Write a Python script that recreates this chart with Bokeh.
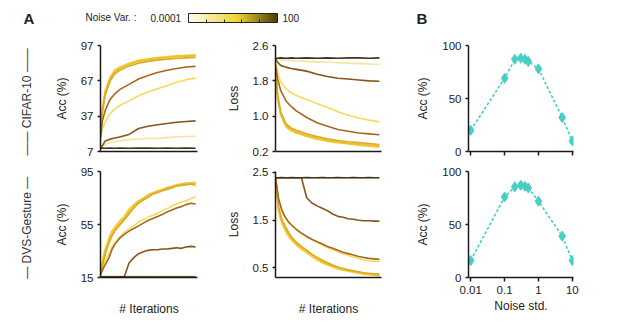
import numpy as np
from bokeh.plotting import figure
from bokeh.layouts import column, row
from bokeh.models import Range1d, FixedTicker, ColorBar, LogColorMapper, Label, Title
from bokeh.embed import file_html
from bokeh.resources import INLINE

FONT = "Liberation Sans"

# ---------------- data ----------------
noise_std = [0.01, 0.1, 0.2, 0.3, 0.4, 0.5, 1, 5, 10]
line_colors = ["#F7E49C", "#F8D95C", "#F6D245", "#F2C935", "#ECBF2B",
               "#DDAA24", "#A5681D", "#8A5419", "#3C3322"]

# CIFAR-10 training curves
iters_c = [0, 2, 5, 10, 15, 20, 30, 40, 50, 60, 70, 80, 90, 100]
cacc_001 = [10, 11.5, 13, 14.5, 15.3, 16, 17, 17.6, 18.2, 18.0, 18.8, 19.3, 19.7, 20]
cacc_01 = [19, 26, 32, 39, 43, 46, 50, 54.3, 57.5, 60.3, 63, 65.8, 68, 69.3]
cacc_02 = [20, 43, 58, 69, 75, 77.8, 81.3, 83.8, 85.2, 86.3, 87.1, 87.7, 88.2, 88.5]
cacc_03 = [20, 44, 59, 70, 76, 78.5, 82, 84.4, 85.8, 86.8, 87.6, 88.2, 88.7, 89]
cacc_04 = [20, 42, 57, 68.5, 74.8, 77.5, 81, 83.5, 84.9, 86, 86.8, 87.4, 87.9, 88.2]
cacc_05 = [20, 40, 55, 66.5, 73, 76, 79.5, 82, 83.5, 84.6, 85.4, 86, 86.5, 86.8]
cacc_1 = [19, 33, 42, 51, 56, 59.5, 64, 68.5, 71.5, 74, 76, 77.5, 78.7, 79.3]
cacc_5 = [10, 12, 16, 17.5, 18.5, 19.3, 21.5, 26.5, 28.5, 29.7, 30.8, 31.8, 32.5, 33]
cacc_10 = [9.8, 9.9, 9.8, 9.9, 9.8, 9.9, 9.8, 9.9, 10, 9.8, 9.9, 9.8, 9.9, 9.8]

closs_001 = [2.30, 2.29, 2.28, 2.27, 2.26, 2.25, 2.24, 2.23, 2.22, 2.21, 2.20, 2.19, 2.18, 2.17]
closs_01 = [2.25, 2.0, 1.78, 1.62, 1.53, 1.47, 1.38, 1.28, 1.20, 1.10, 1.02, 0.96, 0.91, 0.87]
closs_02 = [2.1, 1.45, 1.06, 0.79, 0.69, 0.64, 0.56, 0.50, 0.45, 0.41, 0.38, 0.36, 0.34, 0.32]
closs_03 = [2.1, 1.40, 1.02, 0.76, 0.67, 0.62, 0.54, 0.48, 0.43, 0.40, 0.37, 0.34, 0.32, 0.30]
closs_04 = [2.1, 1.44, 1.05, 0.79, 0.70, 0.65, 0.57, 0.51, 0.46, 0.42, 0.39, 0.37, 0.35, 0.33]
closs_05 = [2.1, 1.50, 1.10, 0.83, 0.73, 0.68, 0.60, 0.54, 0.49, 0.45, 0.42, 0.40, 0.38, 0.36]
closs_1 = [2.15, 1.85, 1.58, 1.35, 1.22, 1.12, 0.97, 0.85, 0.77, 0.70, 0.66, 0.62, 0.60, 0.58]
closs_5 = [2.30, 2.22, 2.15, 2.11, 2.08, 2.06, 2.02, 1.95, 1.90, 1.86, 1.84, 1.82, 1.80, 1.79]
closs_10 = [2.31, 2.31, 2.32, 2.31, 2.32, 2.31, 2.32, 2.31, 2.32, 2.31, 2.32, 2.32, 2.31, 2.32]

# DVS-Gesture training curves
iters_d = [0, 3, 6, 9, 12, 15, 20, 25, 30, 35, 40, 45, 50, 55, 60, 65, 70, 75, 80, 85, 90, 95, 100]
dacc_001 = [16, 16, 16.1, 16, 16.1, 16, 16.1, 16, 16, 16.1, 16, 16, 16.1, 16, 16, 16.1, 16, 16, 16.1, 16, 16, 16.1, 16]
dacc_01 = [17, 24, 29, 33, 38, 41, 45.5, 49, 51.5, 54, 57, 58.5, 60.5, 62, 63.5, 65.5, 67, 69, 70.5, 72, 73, 74.5, 76]
dacc_02 = [17, 30, 38, 44, 49, 52.5, 56.5, 60, 65, 69, 72.5, 75, 77, 78.5, 79.5, 81, 82.5, 83.5, 84.5, 85.5, 86, 86.5, 85.5]
dacc_03 = [17, 31, 39, 45, 50, 53, 57.5, 61, 66.5, 70, 73, 74.5, 77.5, 79, 80, 81.5, 82, 84, 85, 85.5, 86.5, 86, 87]
dacc_04 = [17, 28, 36, 42, 47.5, 51, 55, 59, 64, 68, 71.5, 74.5, 76.5, 78, 80.5, 81, 83, 83.5, 84, 85.5, 85, 86, 86]
dacc_05 = [17, 27, 35, 41, 46, 50, 54.5, 58.5, 63, 67.5, 71, 73.5, 75.5, 78, 79, 80.5, 81.5, 82.5, 84, 84.5, 85, 85.5, 84.5]
dacc_1 = [17, 22, 26, 30, 36, 40, 44.5, 47.5, 50, 52, 54, 56, 58, 59.5, 61, 62.5, 64.5, 66, 67.5, 68.5, 70, 71, 70.5]
dacc_5 = [15.5, 15.5, 15.5, 15.5, 15.5, 15.5, 15.5, 15.5, 26, 30, 33, 34.5, 35.5, 36, 36, 36.5, 36.5, 37, 37.5, 37, 38, 38.5, 38]
dacc_10 = [15.4, 15.4, 15.3, 15.4, 15.4, 15.3, 15.4, 15.4, 15.3, 15.4, 15.4, 15.3, 15.4, 15.4, 15.3, 15.4, 15.4, 15.3, 15.4, 15.4, 15.3, 15.4, 15.4]

dloss_001 = [2.385, 2.385, 2.38, 2.385, 2.385, 2.38, 2.385, 2.385, 2.38, 2.385, 2.385, 2.38, 2.385, 2.385, 2.38, 2.385, 2.385, 2.38, 2.385, 2.385, 2.38, 2.385, 2.385]
dloss_01 = [2.39, 1.93, 1.70, 1.56, 1.47, 1.40, 1.30, 1.22, 1.15, 1.09, 1.04, 0.98, 0.93, 0.88, 0.84, 0.80, 0.76, 0.73, 0.70, 0.67, 0.65, 0.64, 0.63]
dloss_02 = [2.39, 1.72, 1.48, 1.35, 1.22, 1.12, 1.00, 0.92, 0.85, 0.77, 0.70, 0.63, 0.58, 0.54, 0.50, 0.47, 0.45, 0.42, 0.40, 0.38, 0.37, 0.36, 0.35]
dloss_03 = [2.39, 1.68, 1.44, 1.30, 1.18, 1.09, 0.98, 0.89, 0.82, 0.74, 0.67, 0.61, 0.56, 0.52, 0.48, 0.45, 0.43, 0.41, 0.39, 0.37, 0.36, 0.35, 0.34]
dloss_04 = [2.39, 1.74, 1.50, 1.36, 1.24, 1.14, 1.02, 0.94, 0.86, 0.78, 0.71, 0.64, 0.59, 0.55, 0.51, 0.48, 0.45, 0.43, 0.41, 0.39, 0.38, 0.37, 0.36]
dloss_05 = [2.39, 1.77, 1.53, 1.39, 1.27, 1.16, 1.04, 0.95, 0.87, 0.79, 0.72, 0.66, 0.61, 0.56, 0.52, 0.49, 0.46, 0.44, 0.42, 0.40, 0.39, 0.38, 0.37]
dloss_1 = [2.39, 1.95, 1.72, 1.58, 1.48, 1.41, 1.31, 1.23, 1.16, 1.10, 1.05, 1.00, 0.95, 0.91, 0.87, 0.83, 0.80, 0.77, 0.74, 0.72, 0.70, 0.69, 0.68]
dloss_5 = [2.39, 2.39, 2.39, 2.39, 2.39, 2.39, 2.39, 2.39, 1.97, 1.86, 1.80, 1.75, 1.70, 1.63, 1.58, 1.56, 1.53, 1.52, 1.50, 1.49, 1.49, 1.48, 1.48]
dloss_10 = [2.39, 2.39, 2.395, 2.39, 2.39, 2.395, 2.39, 2.39, 2.395, 2.39, 2.39, 2.395, 2.39, 2.39, 2.395, 2.39, 2.39, 2.395, 2.39, 2.39, 2.395, 2.39, 2.39]

# Panel B: final accuracy vs noise std
cifar_final = [20, 69, 87, 88, 87, 85, 78, 32, 10]
dvs_final = [16, 76, 85.5, 87, 86, 84.5, 72, 39, 16]

# tick values
cacc_ticks = [7, 37, 67, 97]
closs_ticks = [0.2, 1.0, 1.8, 2.6]
dacc_ticks = [15, 55, 95]
dloss_ticks = [0.5, 1.5, 2.5]
b_yticks = [0, 50, 100]
b_xticks = [0.01, 0.1, 1, 10]
b_xlabels = ["0.01", "0.1", "1", "10"]

cifar_acc = [cacc_001, cacc_01, cacc_02, cacc_03, cacc_04, cacc_05, cacc_1, cacc_5, cacc_10]
cifar_loss = [closs_001, closs_01, closs_02, closs_03, closs_04, closs_05, closs_1, closs_5, closs_10]
dvs_acc = [dacc_001, dacc_01, dacc_02, dacc_03, dacc_04, dacc_05, dacc_1, dacc_5, dacc_10]
dvs_loss = [dloss_001, dloss_01, dloss_02, dloss_03, dloss_04, dloss_05, dloss_1, dloss_5, dloss_10]

# ---------------- style helpers ----------------
TXT = "#222222"
AX = "#1a1a1a"


def style(p):
    p.outline_line_color = None
    p.xgrid.visible = False
    p.ygrid.visible = False
    p.background_fill_color = "white"
    p.border_fill_color = "white"
    for ax in p.axis:
        ax.axis_line_width = 1.5
        ax.axis_line_color = AX
        ax.major_tick_line_width = 1.5
        ax.major_tick_line_color = AX
        ax.major_tick_out = 3
        ax.major_tick_in = 0
        ax.minor_tick_line_color = None
        ax.major_label_text_font = FONT
        ax.major_label_text_font_size = "11.5px"
        ax.major_label_text_color = TXT
        ax.axis_label_text_font = FONT
        ax.axis_label_text_font_size = "12px"
        ax.axis_label_text_font_style = "normal"
        ax.axis_label_text_color = TXT
    p.yaxis.major_label_standoff = 4
    p.yaxis.axis_label_standoff = 9


def curve_fig(w, h, bl, br, bt, bb, xs, ys_list, yr, yticks, ylabel, xlabel):
    p = figure(width=w, height=h, output_backend="svg", toolbar_location=None,
               x_range=Range1d(0, 102), y_range=Range1d(*yr),
               min_border_left=bl, min_border_right=br,
               min_border_top=bt, min_border_bottom=bb)
    for ys, c in zip(ys_list, line_colors):
        p.line(xs, ys, line_color=c, line_width=1.6)
    style(p)
    p.xaxis.ticker = FixedTicker(ticks=[])
    p.xaxis.major_tick_out = 0
    p.yaxis.ticker = FixedTicker(ticks=yticks)
    p.yaxis.major_label_overrides = {t: (f"{t:.1f}" if isinstance(t, float) else str(t)) for t in yticks}
    p.yaxis.axis_label = ylabel
    if xlabel:
        p.xaxis.axis_label = xlabel
        p.xaxis.axis_label_standoff = 24
    return p


def b_fig(w, h, bl, br, bt, bb, ys, show_labels):
    p = figure(width=w, height=h, output_backend="svg", toolbar_location=None,
               x_axis_type="log", x_range=Range1d(0.0086, 10.8), y_range=Range1d(0, 100),
               min_border_left=bl, min_border_right=br,
               min_border_top=bt, min_border_bottom=bb)
    col = "#48CFC4"
    p.line(noise_std, ys, line_color=col, line_width=1.6, line_dash="3 2")
    p.scatter(noise_std, ys, marker="diamond", size=10, fill_color=col, line_color=col)
    style(p)
    p.xaxis.ticker = FixedTicker(ticks=b_xticks)
    p.xaxis.major_tick_out = 4
    p.xaxis.major_label_overrides = {t: l for t, l in zip(b_xticks, b_xlabels)}
    p.yaxis.ticker = FixedTicker(ticks=b_yticks)
    p.yaxis.axis_label = "Acc (%)"
    if show_labels:
        p.xaxis.axis_label = "Noise std."
        p.xaxis.major_label_standoff = 4
        p.xaxis.axis_label_standoff = 2
    else:
        p.xaxis.major_label_text_color = None
    return p


# layout geometry (pixels); the page body has no margin, so the layout starts at (0, 0)
W1, W2, W3 = 217, 184, 202
H_HEAD, H_TOP, H_BOT = 38, 123, 160

a1 = curve_fig(W1, H_TOP, 90, 20, 7, 10, iters_c, cifar_acc, (7, 97), cacc_ticks, "Acc (%)", None)
a2 = curve_fig(W2, H_TOP, 58, 20, 7, 10, iters_c, cifar_loss, (0.2, 2.6), closs_ticks, "Loss", None)
a3 = curve_fig(W1, H_BOT, 90, 20, 10, 44, iters_d, dvs_acc, (15, 95), dacc_ticks, "Acc (%)", "# Iterations")
a4 = curve_fig(W2, H_BOT, 58, 20, 10, 44, iters_d, dvs_loss, (0.3, 2.52), dloss_ticks, "Loss", "# Iterations")
b1 = b_fig(W3, H_TOP, 67, 30, 7, 10, cifar_final, False)
b2 = b_fig(W3, H_BOT, 67, 30, 10, 44, dvs_final, True)

for p, txt in ((a1, "——  CIFAR-10  ——"), (a3, "—  DVS-Gesture  —")):
    p.add_layout(Title(text=txt, align="center", text_font=FONT, text_font_size="12px",
                       text_font_style="normal", text_color="#333333", standoff=35), "left")

# header with panel letters and colour bar legend
HW = W1 + W2 + W3
header = figure(width=HW, height=H_HEAD, output_backend="svg", toolbar_location=None,
                x_range=Range1d(0, HW), y_range=Range1d(0, H_HEAD),
                x_axis_location=None, y_axis_location=None,
                min_border=0, min_border_left=0, min_border_right=0,
                min_border_top=0, min_border_bottom=0)
header.outline_line_color = None
header.xgrid.visible = False
header.ygrid.visible = False

for x, y, t, size, bold in ((23, 19.7, "A", "15px", True), (85, 20.7, "Noise Var. :", "10px", False),
                            (150, 20.7, "0.0001", "10px", False), (282, 20.7, "100", "10px", False),
                            (416, 20, "B", "15px", True)):
    header.add_layout(Label(x=x, y=y, text=t, text_font=FONT, text_font_size=size,
                            text_font_style="bold" if bold else "normal",
                            text_color=TXT, text_baseline="middle", text_align="left"))


def interp_palette(stops, n=256):
    pos = [s[0] for s in stops]
    rgb = np.array([[int(s[1][i:i + 2], 16) for i in (1, 3, 5)] for s in stops], dtype=float)
    out = []
    for t in np.linspace(0, 1, n):
        c = [np.interp(t, pos, rgb[:, k]) for k in range(3)]
        out.append("#%02x%02x%02x" % tuple(int(round(v)) for v in c))
    return out


palette = interp_palette([(0.0, "#FFFDF2"), (0.55, "#F2D232"), (1.0, "#4A3C06")])
mapper = LogColorMapper(palette=palette, low=1e-4, high=100)
cb_ticks = [10 ** -2.8, 10 ** -1.6, 10 ** -0.4, 10 ** 0.8]
cb = ColorBar(color_mapper=mapper, orientation="horizontal", location=(188, 16),
              width=89, height=9, padding=0, margin=0,
              ticker=FixedTicker(ticks=cb_ticks), major_label_text_color=None,
              label_standoff=0, major_tick_line_color="#222222", major_tick_in=3,
              major_tick_out=0, minor_tick_line_color=None, bar_line_color="#222222",
              bar_line_width=1, background_fill_alpha=0, border_line_color=None)
header.add_layout(cb, "center")

layout = column(header, row(a1, a2, b1), row(a3, a4, b2))

with open("out.html", "w") as f:
    f.write(file_html(layout, INLINE))
